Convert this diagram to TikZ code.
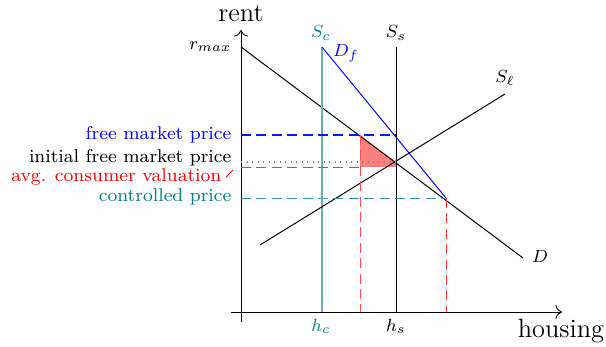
\documentclass[tikz,border=0pt]{standalone}
\usetikzlibrary{arrows.meta}
\newcommand\mylblsize{\fontsize{8.4}{10}\selectfont}
\begin{document}
\begin{tikzpicture}[x=0.4545pt,y=-0.4545pt,
  lbl/.style={font=\mylblsize,inner sep=1pt},
  mlbl/.style={font=\mylblsize,inner sep=1pt},
  dsh/.style={dash pattern=on 4.5pt off 2.5pt,line width=0.4pt},
  curve/.style={line width=0.45pt}]
\useasboundingbox (0,0) rectangle (606,347);
% axes
\coordinate (O) at (241,312);
\coordinate (ybot) at (241,322);
\coordinate (ytop) at (241,30);
\coordinate (xleft) at (231,312);
\coordinate (xright) at (562,312);
\draw[-{To[length=3pt]}] (ybot) -- (ytop);
\draw[-{To[length=3pt]}] (xleft) -- (xright);
\node[font=\large,inner sep=0pt] (rent) at (241,14) {rent};
\node[font=\large,inner sep=0pt] (housing) at (561,331) {housing};
% coordinates
\coordinate (rmax) at (241,47);
\coordinate (Dend) at (523,258);
\coordinate (Sctop) at (322,47);
\coordinate (Scbot) at (322,312);
\coordinate (Sstop) at (396,47);
\coordinate (Ssbot) at (396,312);
\coordinate (Dfend) at (446,198);
\coordinate (Slstart) at (260,245);
\coordinate (Slend) at (505,94);
\coordinate (E) at (396,162);
\coordinate (A) at (360,135);
\coordinate (Aval) at (360,167);
\coordinate (Eval) at (396,167);
\coordinate (Abot) at (360,312);
\coordinate (Fbot) at (446,312);
\coordinate (yfree) at (241,135);
\coordinate (yinit) at (241,162);
\coordinate (yval) at (241,167);
\coordinate (yctrl) at (241,198);
\coordinate (Sfree) at (396,135);
% triangle
\fill[red,opacity=0.5] (A) -- (E) -- (Eval) -- (Aval) -- cycle;
% curves
\draw[curve] (rmax) -- (Dend);
\draw[teal!60,line width=0.9pt] (Sctop) -- (Scbot);
\draw[curve] (Sstop) -- (Ssbot);
\draw[blue,curve] (Sctop) -- (Dfend);
\draw[curve] (Slstart) -- (Slend);
% dashed guides
\draw[dsh,draw=blue!90!cyan,line width=0.5pt] (yfree) -- (Sfree);
\draw[gray,dotted,line width=0.5pt] (yinit) -- (E);
\draw[dsh,draw=red!80] (yval) -- (Aval);
\draw[dsh,draw=red!70] (A) -- (Abot);
\draw[dsh,draw=teal!80] (yctrl) -- (Dfend);
\draw[dsh,draw=red!80] (Dfend) -- (Fbot);
% labels
\node[mlbl,anchor=east] (rmaxl) at (234,47) {$r_{max}$};
\node[mlbl,teal] (Scl) at (321,33) {$S_c$};
\node[mlbl] (Ssl) at (396,33) {$S_s$};
\node[mlbl,blue] (Dfl) at (346,53) {$D_f$};
\node[mlbl] (Sll) at (505,78) {$S_\ell$};
\node[mlbl] (Dl) at (540,256) {$D$};
\node[mlbl,teal] (hcl) at (321,326) {$h_c$};
\node[mlbl] (hsl) at (396,326) {$h_s$};
\node[lbl,blue,anchor=east] (free) at (234,135) {free market price};
\node[lbl,anchor=east] (init) at (234,158) {initial free market price};
\node[lbl,red,anchor=east] (aval) at (224,177) {avg. consumer valuation};
\node[lbl,teal,anchor=east] (ctrl) at (234,197) {controlled price};
\coordinate (avtip) at (233,170);
\draw[red,line width=0.4pt] ([xshift=1pt]aval.east) -- (avtip);
\end{tikzpicture}
\end{document}
